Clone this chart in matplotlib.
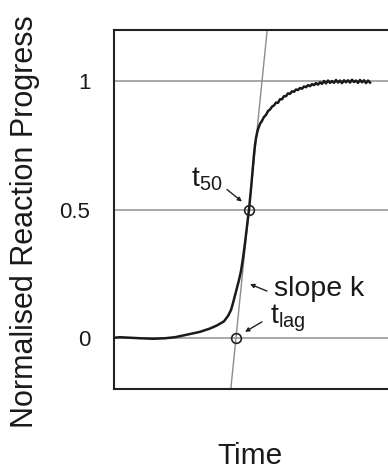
import matplotlib
matplotlib.use("Agg")
import matplotlib.pyplot as plt

plt.rcParams['font.family'] = ['Liberation Sans', 'DejaVu Sans']
plt.rcParams['mathtext.default'] = 'regular'

# reaction trace (time in arbitrary units, progress normalised)
time = [0.0, 0.6, 1.6, 2.6, 3.9, 5.1, 6.1, 7.3, 8.6, 9.6, 10.3, 11.0, 11.4,
        11.7, 11.9, 12.1, 12.3, 12.5, 12.7, 12.9, 13.1, 13.3, 13.5, 13.7,
        13.9, 14.0, 14.1, 14.2, 14.3,
        14.4, 14.6, 14.8, 15.0, 15.2, 15.4, 15.6, 15.8, 16.0, 16.2, 16.4,
        16.6, 16.8, 17.0, 17.2, 17.4, 17.6, 17.8, 18.0, 18.2, 18.4, 18.6,
        18.8, 19.0, 19.2, 19.4, 19.6, 19.8, 20.0, 20.2, 20.4, 20.6, 20.8,
        21.0, 21.2, 21.4, 21.6, 21.8, 22.0, 22.2, 22.4, 22.6, 22.8, 23.0,
        23.2, 23.4, 23.6, 23.8, 24.0, 24.2, 24.4, 24.6, 24.8, 25.0, 25.2,
        25.4, 25.6]
progress = [0.0, 0.002, 0.0, -0.002, -0.004, -0.002, 0.002, 0.012, 0.023,
            0.036, 0.048, 0.064, 0.085, 0.108, 0.135, 0.165, 0.195, 0.225,
            0.26, 0.31, 0.37, 0.435, 0.5, 0.58, 0.67, 0.715, 0.752, 0.778,
            0.798,
            0.813, 0.834, 0.846, 0.861, 0.869, 0.884, 0.890, 0.901, 0.906,
            0.917, 0.916, 0.930, 0.930, 0.942, 0.942, 0.953, 0.951, 0.961,
            0.959, 0.968, 0.966, 0.974, 0.971, 0.980, 0.977, 0.985, 0.981,
            0.989, 0.985, 0.993, 0.987, 0.996, 0.990, 1.001, 0.992, 1.003,
            0.994, 1.001, 0.994, 1.005, 0.995, 1.003, 0.993, 1.004, 0.996,
            1.004, 0.995, 1.006, 0.997, 1.003, 0.994, 1.005, 0.996, 1.004,
            0.993, 1.003, 0.995]

t50 = 13.5
t_lag = 12.2
y_ticks = [0, 0.5, 1]
y_tick_labels = ['0', '0.5', '1']

fig = plt.figure(figsize=(3.88, 4.72), dpi=100)
ax = fig.add_axes([0.2938, 0.1758, 0.7062, 0.7606])
ax.set_xlim(0, 27.4)
ax.set_ylim(-0.2, 1.2)

for y in y_ticks:
    ax.axhline(y, color='#9a9a9a', lw=1.2, zorder=1)

# tangent through t50, crossing zero at t_lag
k = 0.5 / (t50 - t_lag)
ax.axline((t_lag, 0), slope=k, color='#8c8c8c', lw=1.0, zorder=1)

ax.plot(time, progress, color='#1a1a1a', lw=1.8, zorder=3)
ax.plot([t50, t_lag], [0.5, 0], 'o', ms=7, mfc='none', mec='#222222',
        mew=1.2, zorder=4)

arrow = dict(arrowstyle='-|>', color='#222222', lw=1.0, mutation_scale=6,
             shrinkA=0, shrinkB=0)
ax.annotate('', xy=(12.8, 0.531), xytext=(11.3, 0.578), arrowprops=arrow)
ax.annotate('', xy=(13.1, 0.023), xytext=(14.8, 0.062), arrowprops=arrow)
ax.annotate('', xy=(13.6, 0.209), xytext=(15.3, 0.182), arrowprops=arrow)

txt = dict(fontsize=20.5, color='#1a1a1a', va='baseline')
ax.text(10.9, 0.589, r'$t_{50}$', ha='right', **txt)
ax.text(15.6, 0.054, r'$t_{lag}$', ha='left', **txt)
ax.text(16.0, 0.163, 'slope k', ha='left', **txt)

ax.set_yticks(y_ticks)
ax.set_yticklabels(y_tick_labels)
ax.set_xticks([])
ax.tick_params(axis='y', length=0, pad=17, labelsize=16, labelcolor='#1a1a1a')
ax.spines['right'].set_visible(False)
for s in ['left', 'top', 'bottom']:
    ax.spines[s].set_linewidth(1.5)
    ax.spines[s].set_color('#222222')

fig.text(25 / 388, 0.5297, 'Normalised Reaction Progress', rotation=90,
         ha='center', va='center', fontsize=22, color='#1a1a1a')
fig.text(250 / 388, 0.017, 'Time', ha='center', va='baseline',
         fontsize=21.5, color='#1a1a1a')

fig.savefig('out.png', dpi=100)
